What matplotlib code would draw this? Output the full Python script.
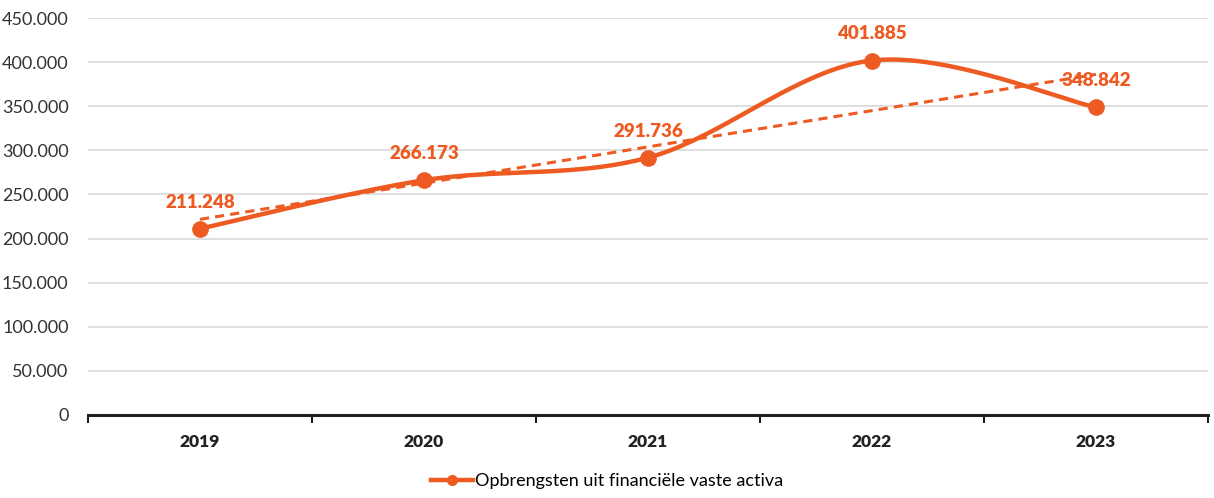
import numpy as np
import matplotlib
matplotlib.use("Agg")
import matplotlib.pyplot as plt
from matplotlib.lines import Line2D

# data
years = ["2019", "2020", "2021", "2022", "2023"]
values = [211248, 266173, 291736, 401885, 348842]
value_labels = ["211.248", "266.173", "291.736", "401.885", "348.842"]
series_name = "Opbrengsten uit financiële vaste activa"
y_ticks = [0, 50000, 100000, 150000, 200000, 250000, 300000, 350000, 400000, 450000]
y_tick_labels = ["0", "50.000", "100.000", "150.000", "200.000", "250.000",
                 "300.000", "350.000", "400.000", "450.000"]

orange = "#EE5B22"
plt.rcParams["font.family"] = ["Lato", "DejaVu Sans"]


def smooth_curve(x, y, n=40):
    # Catmull-Rom style smoothing, similar to a spreadsheet "smoothed line"
    x = np.asarray(x, float)
    y = np.asarray(y, float)
    px = np.concatenate([[x[0]], x, [x[-1]]])
    py = np.concatenate([[y[0]], y, [y[-1]]])
    xs, ys = [], []
    for i in range(1, len(px) - 2):
        t = np.linspace(0, 1, n)
        c1x = px[i] + (px[i + 1] - px[i - 1]) / 6
        c1y = py[i] + (py[i + 1] - py[i - 1]) / 6
        c2x = px[i + 1] - (px[i + 2] - px[i]) / 6
        c2y = py[i + 1] - (py[i + 2] - py[i]) / 6
        bx = ((1 - t) ** 3 * px[i] + 3 * (1 - t) ** 2 * t * c1x
              + 3 * (1 - t) * t ** 2 * c2x + t ** 3 * px[i + 1])
        by = ((1 - t) ** 3 * py[i] + 3 * (1 - t) ** 2 * t * c1y
              + 3 * (1 - t) * t ** 2 * c2y + t ** 3 * py[i + 1])
        xs.append(bx)
        ys.append(by)
    return np.concatenate(xs), np.concatenate(ys)


fig = plt.figure(figsize=(12.14, 4.98), dpi=100)
ax = fig.add_axes([0.0725, 0.1667, 0.9225, 0.797])

x = np.arange(len(years))

# gridlines
for yt in y_ticks[1:]:
    ax.axhline(yt, color="#D9D9D9", lw=1.2, zorder=0)

# trend line (linear fit)
slope, intercept = np.polyfit(x, values, 1)
ax.plot([x[0], x[-1]], [intercept + slope * x[0], intercept + slope * x[-1]],
        color=orange, lw=2.2, ls=(0, (3, 2)), zorder=2)

# smoothed series
sx, sy = smooth_curve(x, values)
ax.plot(sx, sy, color=orange, lw=3.2, zorder=3, solid_capstyle="round")
ax.plot(x, values, "o", color=orange, ms=11, zorder=4)

for xi, v, lab in zip(x, values, value_labels):
    ax.annotate(lab, (xi, v), xytext=(0, 13), textcoords="offset points",
                ha="center", va="bottom", color=orange, fontsize=13.5,
                fontweight="heavy", zorder=5)

ax.set_xlim(-0.5, len(years) - 0.5)
ax.set_ylim(0, 450000)
ax.set_yticks(y_ticks)
ax.set_yticklabels(y_tick_labels, fontsize=13, color="#333333")
ax.tick_params(axis="y", length=0, pad=14)

ax.set_xticks(np.arange(-0.5, len(years), 1.0))
ax.set_xticklabels([])
ax.tick_params(axis="x", direction="out", length=6, width=1.5, color="#222222")
ax.set_xticks(x, minor=True)
ax.set_xticklabels(years, minor=True, fontsize=12.5, fontweight="heavy", color="#222222")
ax.tick_params(axis="x", which="minor", length=0, pad=14)

for s in ["top", "right", "left"]:
    ax.spines[s].set_visible(False)
ax.spines["bottom"].set_linewidth(2.2)
ax.spines["bottom"].set_color("#222222")

handle = Line2D([0], [0], color=orange, lw=3.2, marker="o", ms=7)
fig.legend([handle], [series_name], loc="lower center", bbox_to_anchor=(0.5, -0.015),
           frameon=False, fontsize=13, handlelength=2.3, handletextpad=0.1)

fig.savefig("out.png", dpi=100)
